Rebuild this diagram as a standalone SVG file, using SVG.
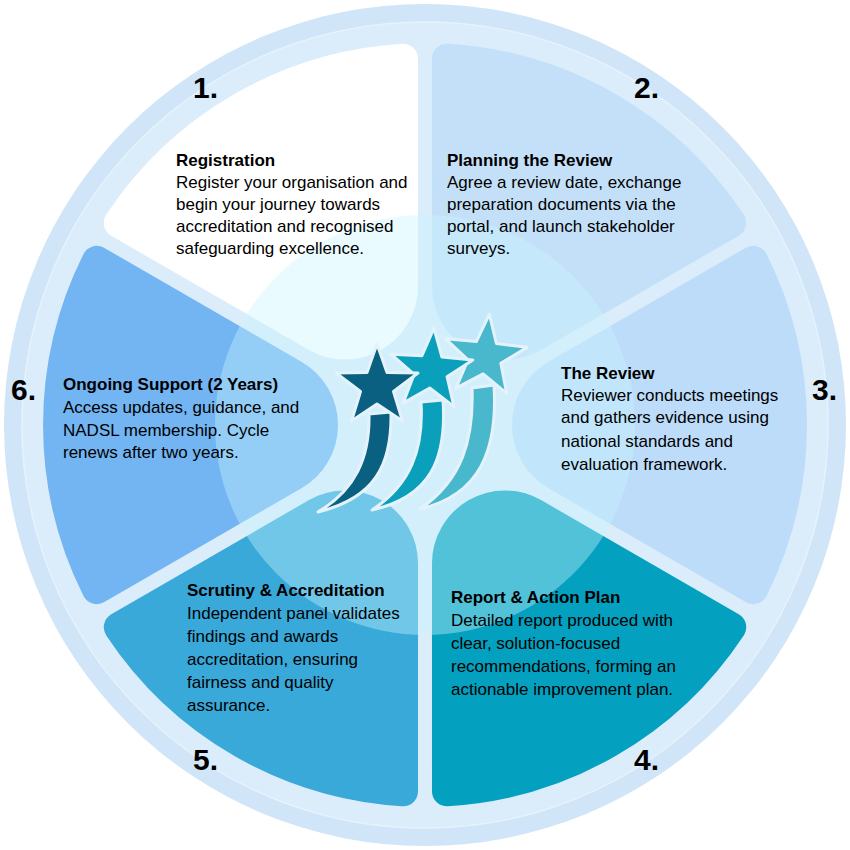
<svg xmlns="http://www.w3.org/2000/svg" width="850" height="850" viewBox="0 0 850 850">
<style>
text{font-family:"Liberation Sans",Arial,sans-serif;fill:#000}
.n{font-size:30px;font-weight:bold}
.t{font-size:17px;font-weight:bold}
.b{font-size:17px}
.seg{stroke-width:30;stroke-linejoin:round}
</style>
<defs>
<path id="wedge" d="M131,-50.25 L328.2,-164.1 A367 367 0 0 1 328.2,164.1 L131,50.25 A58 58 0 0 1 131,-50.25 Z"/>
<polygon id="star" points="0,-42 10,-13.6 41,-13 16.5,5.5 25.5,35 0,18 -25.5,35 -16.5,5.5 -41,-13 -10,-13.6"/>
</defs>
<rect width="850" height="850" fill="#fff"/>
<circle cx="425" cy="425" r="421" fill="#d0e5f8"/>
<circle cx="425" cy="425" r="403" fill="#dbecfa" stroke="#e6f2fc" stroke-width="1.5"/>
<g transform="translate(425,425)">
<g id="seg1"><use href="#wedge" transform="rotate(-120)" fill="#ffffff" stroke="#ffffff" class="seg"/></g>
<g id="seg2"><use href="#wedge" transform="rotate(-60)" fill="#c4e0f8" stroke="#c4e0f8" class="seg"/></g>
<g id="seg3"><use href="#wedge" transform="rotate(0)" fill="#bcdcf9" stroke="#bcdcf9" class="seg"/></g>
<g id="seg4"><use href="#wedge" transform="rotate(60)" fill="#04a0bf" stroke="#04a0bf" class="seg"/></g>
<g id="seg5"><use href="#wedge" transform="rotate(120)" fill="#38a9d9" stroke="#38a9d9" class="seg"/></g>
<g id="seg6"><use href="#wedge" transform="rotate(180)" fill="#72b5f2" stroke="#72b5f2" class="seg"/></g>
</g>
<circle cx="425" cy="425" r="210" fill="#c8f4ff" fill-opacity="0.4"/>
<g id="stars" stroke="#e4f3fb" stroke-width="3" stroke-linejoin="round">
<path d="M494,385 C498,450 480,495 420,509 C462,480 474,440 472,388 Z" fill="#4ab8cc"/>
<use href="#star" transform="translate(485,356) rotate(6)" fill="#4ab8cc"/>
<path d="M443,400 C447,460 430,497 372,510 C410,485 424,450 421,402 Z" fill="#0a9fba"/>
<use href="#star" transform="translate(431,370) rotate(4)" fill="#0a9fba"/>
<path d="M391,412 C392,465 375,498 318,512 C355,490 370,458 369,414 Z" fill="#0a6080"/>
<use href="#star" transform="translate(377,386)" fill="#0a6080"/>
</g>
<g id="labels">
<text class="n" x="193" y="98">1.</text>
<text class="n" x="634" y="98">2.</text>
<text class="n" x="812" y="400">3.</text>
<text class="n" x="634" y="770">4.</text>
<text class="n" x="193" y="770">5.</text>
<text class="n" x="11" y="400">6.</text>
<text class="t" x="176" y="166">Registration</text>
<text class="b" x="176" y="188">Register your organisation and</text>
<text class="b" x="176" y="210">begin your journey towards</text>
<text class="b" x="176" y="232">accreditation and recognised</text>
<text class="b" x="176" y="254">safeguarding excellence.</text>
<text class="t" x="447" y="166">Planning the Review</text>
<text class="b" x="447" y="188">Agree a review date, exchange</text>
<text class="b" x="447" y="210">preparation documents via the</text>
<text class="b" x="447" y="232">portal, and launch stakeholder</text>
<text class="b" x="447" y="254">surveys.</text>
<text class="t" x="561" y="379">The Review</text>
<text class="b" x="561" y="401">Reviewer conducts meetings</text>
<text class="b" x="561" y="423">and gathers evidence using</text>
<text class="b" x="561" y="447">national standards and</text>
<text class="b" x="561" y="470">evaluation framework.</text>
<text class="t" x="63" y="390">Ongoing Support (2 Years)</text>
<text class="b" x="63" y="413">Access updates, guidance, and</text>
<text class="b" x="63" y="436">NADSL membership. Cycle</text>
<text class="b" x="63" y="458">renews after two years.</text>
<text class="t" x="187" y="596">Scrutiny &amp; Accreditation</text>
<text class="b" x="187" y="619">Independent panel validates</text>
<text class="b" x="187" y="642">findings and awards</text>
<text class="b" x="187" y="665">accreditation, ensuring</text>
<text class="b" x="187" y="688">fairness and quality</text>
<text class="b" x="187" y="711">assurance.</text>
<text class="t" x="451" y="603">Report &amp; Action Plan</text>
<text class="b" x="451" y="626">Detailed report produced with</text>
<text class="b" x="451" y="649">clear, solution-focused</text>
<text class="b" x="451" y="672">recommendations, forming an</text>
<text class="b" x="451" y="695">actionable improvement plan.</text>
</g>
</svg>
